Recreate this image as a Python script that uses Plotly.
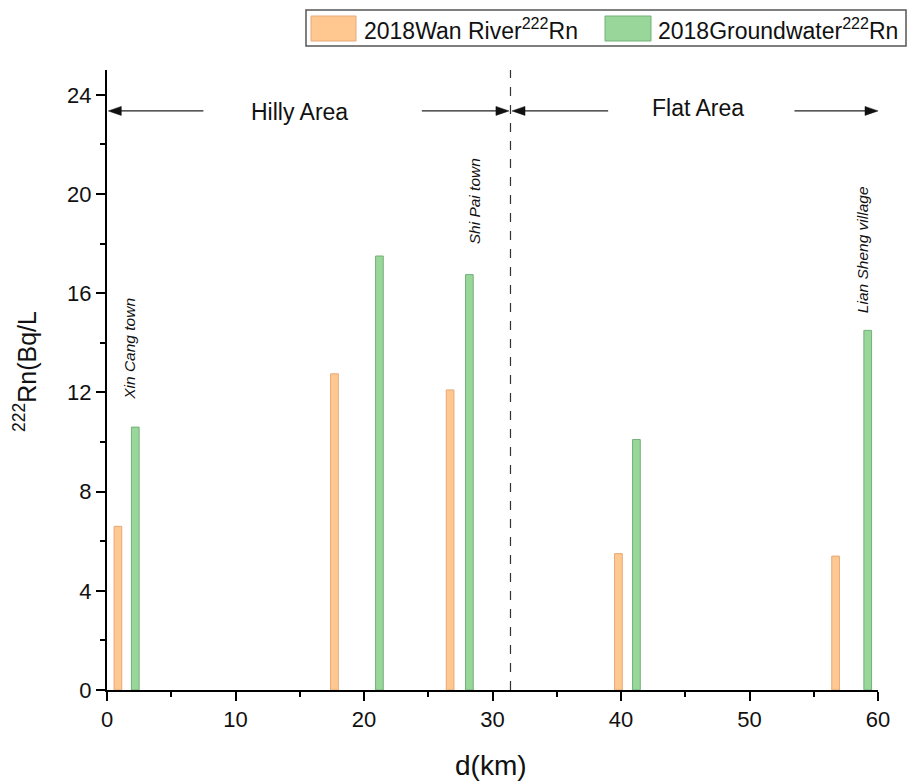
import plotly.graph_objects as go

# Data
river_d = [0.85, 17.7, 26.7, 39.8, 56.7]
river_rn = [6.6, 12.75, 12.1, 5.5, 5.4]
gw_d = [2.2, 21.2, 28.2, 41.2, 59.2]
gw_rn = [10.6, 17.5, 16.75, 10.1, 14.5]
series_names = ["2018Wan River<sup>222</sup>Rn", "2018Groundwater<sup>222</sup>Rn"]
site_labels = ["Xin Cang town", "Shi Pai town", "Lian Sheng village"]
site_x = [1.8, 28.6, 58.8]
site_y_top = [15.9, 21.5, 20.4]
x_ticks = [0, 10, 20, 30, 40, 50, 60]
y_ticks = [0, 4, 8, 12, 16, 20, 24]
divider_x = 31.4
arrow_y = 23.35

FONT = "Liberation Sans, Arial, sans-serif"
ORANGE, ORANGE_LINE = "#FFC891", "#E8A878"
GREEN, GREEN_LINE = "#98D69A", "#74B078"
W, H = 918, 782

# plot area pixels
L, R, T, B = 107, W - 40, 70, H - 92
XU = (R - L) / 60.0   # px per x unit
YU = (B - T) / 25.0   # px per y unit
def xp(x): return (x - L) / (R - L)
def yp(y): return (B - y) / (B - T)

fig = go.Figure()
fig.add_trace(go.Bar(
    x=river_d, y=river_rn, width=0.6, name=series_names[0], showlegend=False,
    marker=dict(color=ORANGE, line=dict(color=ORANGE_LINE, width=1)),
))
fig.add_trace(go.Bar(
    x=gw_d, y=gw_rn, width=0.6, name=series_names[1], showlegend=False,
    marker=dict(color=GREEN, line=dict(color=GREEN_LINE, width=1)),
))

shapes = [
    dict(type="line", x0=divider_x, x1=divider_x, y0=0, y1=25, xref="x", yref="y",
         line=dict(color="#333333", width=1.2, dash="dash")),
]
ann = []

def arrow(x_head, x_tail):
    d = 1 if x_tail > x_head else -1
    hl = 13 / XU
    hh = 4.5 / YU
    shapes.append(dict(type="line", x0=x_head + d * hl * 0.8, x1=x_tail, y0=arrow_y, y1=arrow_y,
                       xref="x", yref="y", line=dict(color="#222222", width=1.3)))
    path = "M {0},{1} L {2},{3} L {2},{4} Z".format(
        x_head, arrow_y, x_head + d * hl, arrow_y + hh, arrow_y - hh)
    shapes.append(dict(type="path", path=path, xref="x", yref="y",
                       fillcolor="#111111", line=dict(color="#111111", width=0.5)))

# Hilly Area
arrow(0.1, 7.5)
arrow(divider_x - 0.12, 24.5)
ann.append(dict(x=15.0, y=arrow_y - 0.05, xref="x", yref="y", text="Hilly Area", showarrow=False,
                font=dict(family=FONT, size=23, color="#111111")))
# Flat Area
arrow(divider_x + 0.12, 39.0)
arrow(60.0, 53.5)
ann.append(dict(x=46.0, y=arrow_y + 0.1, xref="x", yref="y", text="Flat Area", showarrow=False,
                font=dict(family=FONT, size=23, color="#111111")))

for lab, xx, yy in zip(site_labels, site_x, site_y_top):
    ann.append(dict(x=xx, y=yy, xref="x", yref="y", text="<i>" + lab + "</i>", showarrow=False,
                    textangle=-90, yanchor="top", xanchor="center",
                    font=dict(family=FONT, size=15.5, color="#111111")))

# Axis titles
ann.append(dict(x=xp(25), y=yp(372), xref="paper", yref="paper", xanchor="center", yanchor="middle",
                text="<sup>222</sup>Rn(Bq/L", textangle=-90, showarrow=False,
                font=dict(family=FONT, size=25, color="#111111")))
ann.append(dict(x=xp(491), y=yp(765), xref="paper", yref="paper", xanchor="center", yanchor="middle",
                text="d(km)", showarrow=False, font=dict(family=FONT, size=28, color="#111111")))

# Legend box
shapes += [
    dict(type="rect", xref="paper", yref="paper", x0=xp(306), x1=xp(906), y0=yp(46), y1=yp(10),
         line=dict(color="#555555", width=1.5), fillcolor="rgba(0,0,0,0)"),
    dict(type="rect", xref="paper", yref="paper", x0=xp(311), x1=xp(356), y0=yp(41), y1=yp(16),
         line=dict(color=ORANGE_LINE, width=1), fillcolor=ORANGE),
    dict(type="rect", xref="paper", yref="paper", x0=xp(605), x1=xp(651), y0=yp(41), y1=yp(16),
         line=dict(color=GREEN_LINE, width=1), fillcolor=GREEN),
]
ann.append(dict(x=xp(362), y=yp(29), xref="paper", yref="paper", xanchor="left", yanchor="middle",
                text=series_names[0], showarrow=False, font=dict(family=FONT, size=23, color="#111111")))
ann.append(dict(x=xp(656), y=yp(29), xref="paper", yref="paper", xanchor="left", yanchor="middle",
                text=series_names[1], showarrow=False, font=dict(family=FONT, size=23, color="#111111")))

fig.update_layout(
    width=W, height=H,
    margin=dict(l=L, r=W - R, t=T, b=H - B, autoexpand=False),
    paper_bgcolor="white", plot_bgcolor="white",
    font=dict(family=FONT, size=22, color="#111111"),
    barmode="overlay",
    showlegend=False,
    shapes=shapes, annotations=ann,
)

fig.update_xaxes(
    range=[0, 60], tickvals=x_ticks,
    ticks="outside", ticklen=9, tickwidth=2, tickcolor="black",
    showline=True, linecolor="black", linewidth=2, showgrid=False, zeroline=False,
    minor=dict(ticks="outside", tickvals=[5, 15, 25, 35, 45, 55], ticklen=5, tickwidth=2, tickcolor="black"),
    tickfont=dict(size=22),
)
fig.update_yaxes(
    range=[0, 25], tickvals=y_ticks,
    ticks="outside", ticklen=9, tickwidth=2, tickcolor="black",
    showline=True, linecolor="black", linewidth=2, showgrid=False, zeroline=False,
    minor=dict(ticks="outside", tickvals=[2, 6, 10, 14, 18, 22], ticklen=5, tickwidth=2, tickcolor="black"),
    tickfont=dict(size=22),
)

fig.write_html("out.html")
